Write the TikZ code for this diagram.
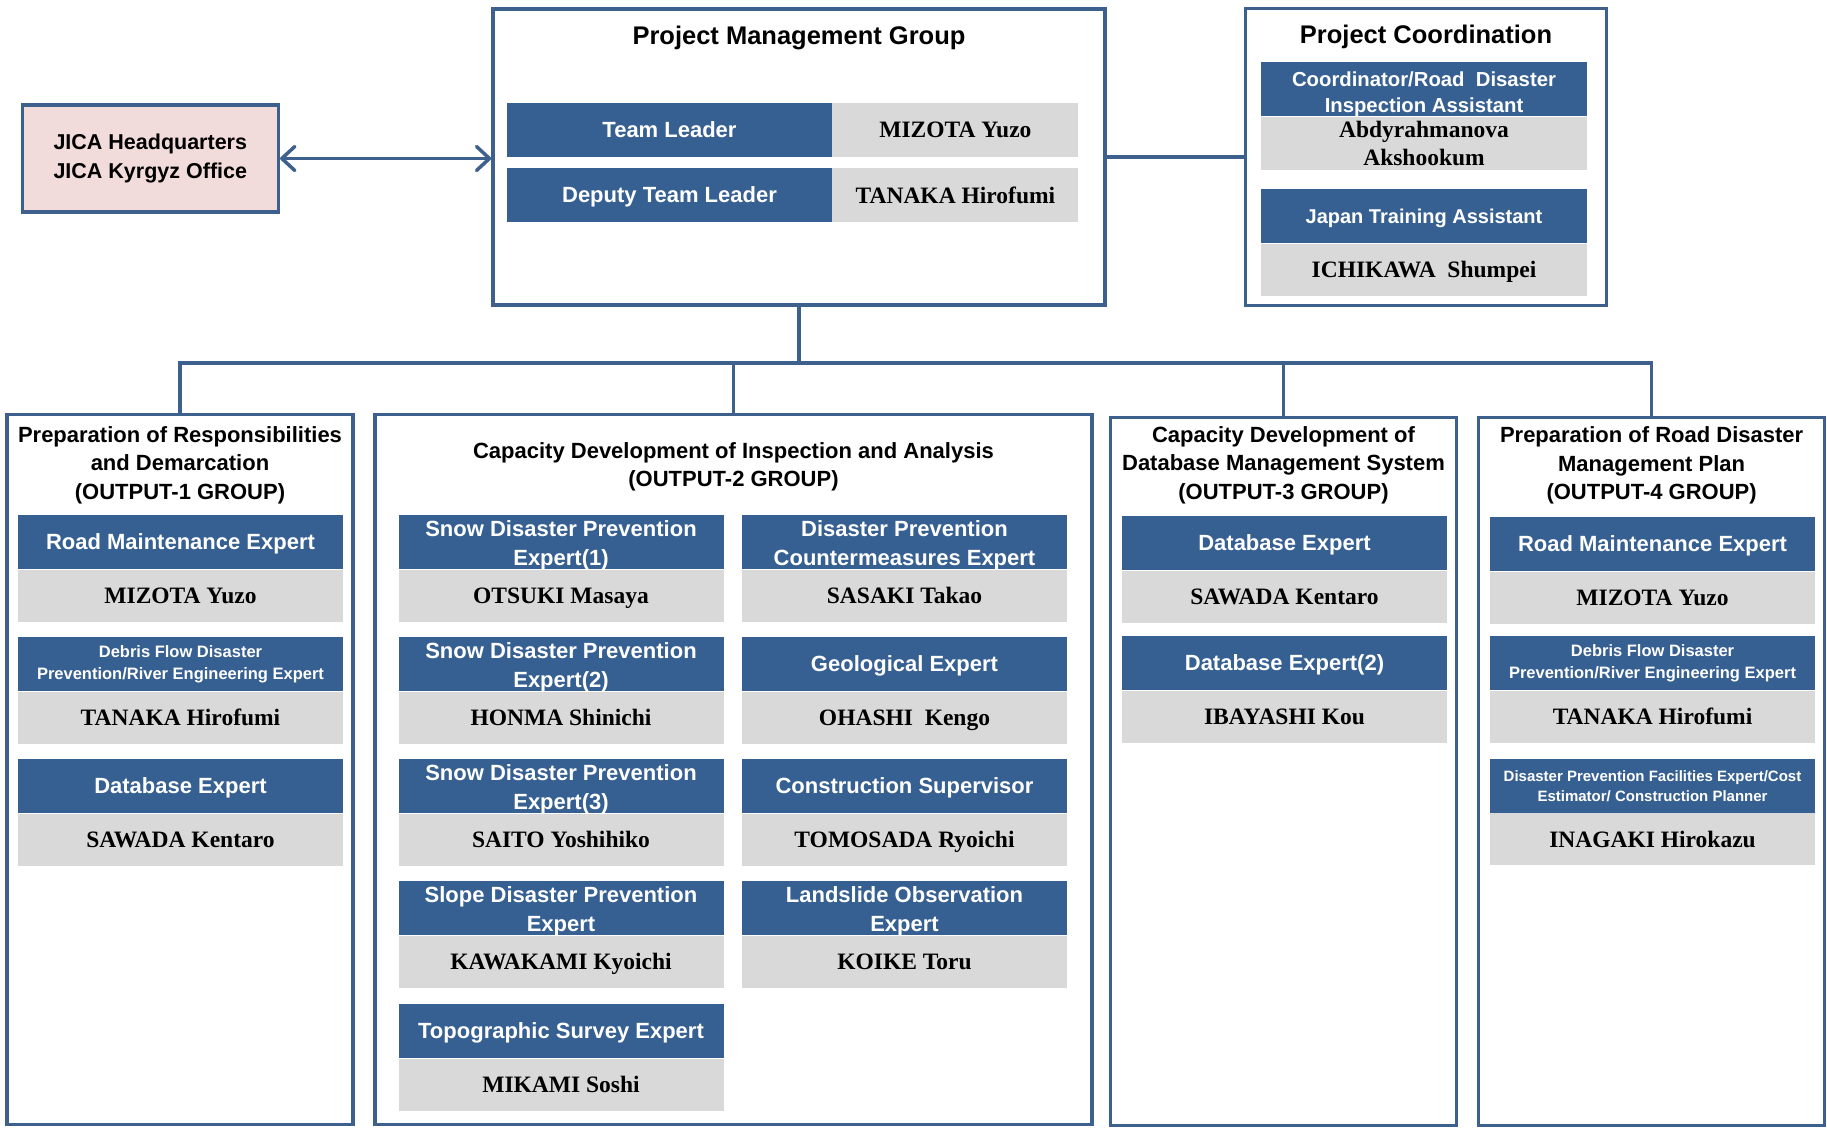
\documentclass[tikz,border=0pt]{standalone}
\usepackage{fontspec}
\setmainfont{Liberation Serif}
\setsansfont{Liberation Sans}
\usepackage{tikz}
\usetikzlibrary{arrows.meta}
\usepackage{xcolor}
\definecolor{frameblue}{RGB}{61,96,140}
\definecolor{roleblue}{RGB}{55,96,146}
\definecolor{namegray}{RGB}{217,217,217}
\definecolor{jicapink}{RGB}{242,220,219}

\begin{document}
\begin{tikzpicture}[
                  x = 1pt,
                  y = -1pt,
    groupbox/.style = {draw=frameblue, line width=3.5pt, fill=white, inner sep=0pt},
    headtext/.style = {align=center, inner sep=0pt,
                       font=\sffamily\bfseries\fontsize{22}{28.5}\selectfont},
     toptext/.style = {headtext, font=\sffamily\bfseries\fontsize{25.5}{29}\selectfont},
      evenly/.style 2 args = {execute at begin node={\vrule height #1pt depth 0pt width 0pt},
                       execute at end node={\vrule height 0pt depth #2pt width 0pt}},
     rolebox/.style = {fill=roleblue, text=white, align=center, inner xsep=0pt, inner ysep=-3pt,
                       minimum width=325pt, minimum height=54pt, anchor=north,
                       font=\sffamily\bfseries\fontsize{22}{29}\selectfont},
     onerole/.style = {rolebox, evenly={20}{5}},
     tworole/.style = {rolebox, evenly={50.6}{5}},
   smallrole/.style = {rolebox, font=\sffamily\bfseries\fontsize{16.5}{22}\selectfont},
    tinyrole/.style = {rolebox, font=\sffamily\bfseries\fontsize{15}{20}\selectfont},
     namebox/.style = {evenly={21}{5.2}, fill=namegray, align=center, inner sep=0pt,
                       minimum width=325pt, minimum height=52pt, anchor=north,
                       font=\rmfamily\bfseries\fontsize{23.5}{28}\selectfont},
        link/.style = {draw=frameblue, line width=3.5pt},
                     ]
\useasboundingbox (0,0) rectangle (1827,1128);

% top row
\node[groupbox, fill=jicapink, minimum width=256pt, minimum height=107pt, align=center,
      font=\sffamily\bfseries\fontsize{21.5}{29}\selectfont] (jica) at (150.3,158.5)
      {JICA Headquarters\\JICA Kyrgyz Office};
\node[groupbox, minimum width=612pt, minimum height=296pt] (pmg) at (799,157) {};
\node[toptext] (pmgt) at (799,37.5) {Project Management Group};
\node[onerole] (tl) at (669.5,102.5) {Team Leader};
\node[namebox, minimum width=246pt, minimum height=54pt, anchor=north west] (tln) at (tl.north east) {MIZOTA Yuzo};
\node[onerole] (dtl) at (669.5,168) {Deputy Team Leader};
\node[namebox, minimum width=246pt, minimum height=54pt, anchor=north west] (dtln) at (dtl.north east) {TANAKA Hirofumi};

\node[groupbox, minimum width=361pt, minimum height=297pt] (pc) at (1426,157) {};
\node[toptext] (pct) at (1426,36.5) {Project Coordination};
\node[rolebox, evenly={50.9}{4.3}, minimum width=326pt, font=\sffamily\bfseries\fontsize{20.3}{25.6}\selectfont] (crd) at (1424,62)
     {Coordinator/Road~ Disaster\\Inspection Assistant};
\node[namebox, evenly={48.6}{2}, minimum width=326pt] (crdn) at (crd.south) {Abdyrahmanova\\Akshookum};
\node[rolebox, evenly={18.5}{4.9}, minimum width=326pt, font=\sffamily\bfseries\fontsize{20}{25.5}\selectfont] (jta) at (1424,189)
     {Japan Training Assistant};
\node[namebox, minimum width=326pt] (jtan) at (jta.south) {ICHIKAWA~ Shumpei};

% output groups
\node[groupbox, minimum width=346pt, minimum height=710pt] (g1) at (180,769.5) {};
\node[groupbox, minimum width=717pt, minimum height=710pt] (g2) at (733.5,769.5) {};
\node[groupbox, minimum width=346pt, minimum height=708pt] (g3) at (1283.5,771.3) {};
\node[groupbox, minimum width=346pt, minimum height=708pt] (g4) at (1651.6,771.3) {};

\draw[link, {Straight Barb[length=13pt,width=24pt,round]}-{Straight Barb[length=13pt,width=24pt,round]}]
     (jica.east) -- (jica.east -| pmg.west);
\draw[link] (pmg.east) -- (pc.west);
\draw[link] (pmg.south) -- ++(0,56) coordinate (bus);
\draw[link] (bus) -| (g1.north);
\draw[link] (bus) -| (g2.north);
\draw[link] (bus) -| (g3.north);
\draw[link] (bus) -| (g4.north);

% OUTPUT-1
\node[headtext] (g1t) at (180,465) {Preparation of Responsibilities\\and Demarcation\\(OUTPUT-1 GROUP)};
\node[onerole] (o1a) at (180.5,515) {Road Maintenance Expert};
\node[namebox] (o1an) at (o1a.south) {MIZOTA Yuzo};
\node[smallrole] (o1b) at (180.5,637) {Debris Flow Disaster\\Prevention/River Engineering Expert};
\node[namebox] (o1bn) at (o1b.south) {TANAKA Hirofumi};
\node[onerole] (o1c) at (180.5,759) {Database Expert};
\node[namebox] (o1cn) at (o1c.south) {SAWADA Kentaro};

% OUTPUT-2
\node[headtext, font=\sffamily\bfseries\fontsize{22}{28}\selectfont] (g2t) at (733.5,466.5)
     {Capacity Development of Inspection and Analysis\\(OUTPUT-2 GROUP)};
\node[tworole] (o2a) at (561,515) {Snow Disaster Prevention\\Expert(1)};
\node[namebox] (o2an) at (o2a.south) {OTSUKI Masaya};
\node[tworole] (o2b) at (561,637) {Snow Disaster Prevention\\Expert(2)};
\node[namebox] (o2bn) at (o2b.south) {HONMA Shinichi};
\node[tworole] (o2c) at (561,759) {Snow Disaster Prevention\\Expert(3)};
\node[namebox] (o2cn) at (o2c.south) {SAITO Yoshihiko};
\node[tworole] (o2d) at (561,881) {Slope Disaster Prevention\\Expert};
\node[namebox] (o2dn) at (o2d.south) {KAWAKAMI Kyoichi};
\node[onerole] (o2e) at (561,1004) {Topographic Survey Expert};
\node[namebox] (o2en) at (o2e.south) {MIKAMI Soshi};
\node[tworole] (o2f) at (904.5,515) {Disaster Prevention\\Countermeasures Expert};
\node[namebox] (o2fn) at (o2f.south) {SASAKI Takao};
\node[onerole] (o2g) at (904.5,637) {Geological Expert};
\node[namebox] (o2gn) at (o2g.south) {OHASHI~ Kengo};
\node[onerole] (o2h) at (904.5,759) {Construction Supervisor};
\node[namebox] (o2hn) at (o2h.south) {TOMOSADA Ryoichi};
\node[tworole] (o2i) at (904.5,881) {Landslide Observation\\Expert};
\node[namebox] (o2in) at (o2i.south) {KOIKE Toru};

% OUTPUT-3
\node[headtext] (g3t) at (1283.5,465) {Capacity Development of\\Database Management System\\(OUTPUT-3 GROUP)};
\node[onerole] (o3a) at (1284.5,516) {Database Expert};
\node[namebox] (o3an) at (o3a.south) {SAWADA Kentaro};
\node[onerole] (o3b) at (1284.5,636) {Database Expert(2)};
\node[namebox] (o3bn) at (o3b.south) {IBAYASHI Kou};

% OUTPUT-4
\node[headtext] (g4t) at (1651.6,465.5) {Preparation of Road Disaster\\Management Plan\\(OUTPUT-4 GROUP)};
\node[onerole] (o4a) at (1652.5,517) {Road Maintenance Expert};
\node[namebox] (o4an) at (o4a.south) {MIZOTA Yuzo};
\node[smallrole] (o4b) at (1652.5,636) {Debris Flow Disaster\\Prevention/River Engineering Expert};
\node[namebox] (o4bn) at (o4b.south) {TANAKA Hirofumi};
\node[tinyrole] (o4c) at (1652.5,758.5) {Disaster Prevention Facilities Expert/Cost\\Estimator/ Construction Planner};
\node[namebox] (o4cn) at (o4c.south) {INAGAKI Hirokazu};
\end{tikzpicture}
\end{document}
